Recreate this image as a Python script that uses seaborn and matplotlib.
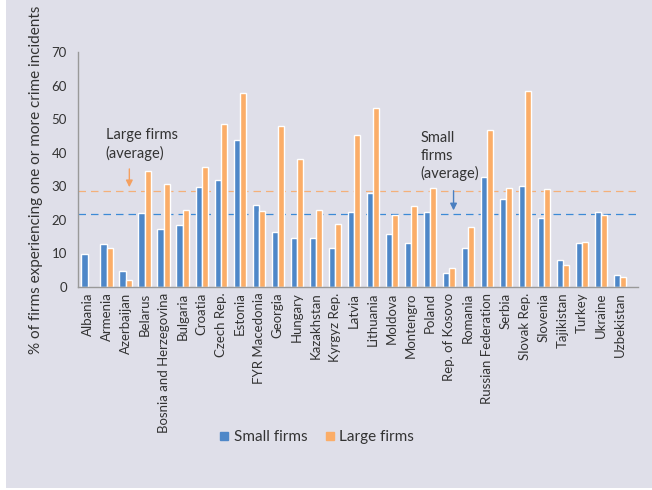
import matplotlib
matplotlib.use("Agg")
import matplotlib.pyplot as plt
import seaborn as sns
import pandas as pd
import numpy as np
from matplotlib.patches import Rectangle
from matplotlib.lines import Line2D

countries = ["Albania", "Armenia", "Azerbaijan", "Belarus", "Bosnia and Herzegovina",
             "Bulgaria", "Croatia", "Czech Rep.", "Estonia", "FYR Macedonia", "Georgia",
             "Hungary", "Kazakhstan", "Kyrgyz Rep.", "Latvia", "Lithuania", "Moldova",
             "Montengro", "Poland", "Rep. of Kosovo", "Romania", "Russian Federation",
             "Serbia", "Slovak Rep.", "Slovenia", "Tajikistan", "Turkey", "Ukraine",
             "Uzbekistan"]
small_firms = [9.8, 12.8, 4.8, 22.0, 17.3, 18.5, 29.8, 31.9, 43.8, 24.4, 16.4,
               14.6, 14.6, 11.6, 22.3, 28.0, 15.8, 13.1, 22.3, 4.2, 11.6, 32.8,
               26.2, 30.1, 20.6, 8.0, 13.1, 22.3, 3.6]
large_firms = [np.nan, 11.6, 2.1, 34.6, 30.7, 23.0, 35.7, 48.6, 57.8, 22.6, 48.0,
               38.1, 23.0, 18.8, 45.3, 53.3, 21.4, 24.1, 29.5, 5.7, 17.9, 46.8,
               29.5, 58.4, 29.2, 6.6, 13.4, 21.4, 3.0]
small_avg = 21.7
large_avg = 28.6

bg = "#dfdfe9"
blue = "#4e87c8"
orange = "#fbad68"

sns.set_theme(style="white")
plt.rcParams["font.family"] = ["Lato", "DejaVu Sans"]

df = pd.DataFrame({
    "country": countries * 2,
    "value": small_firms + large_firms,
    "group": ["Small firms"] * len(countries) + ["Large firms"] * len(countries),
})

fig = plt.figure(figsize=(6.52, 4.9), dpi=100, facecolor=bg)
fig.patches.append(Rectangle((0, 0), 6 / 652, 1, transform=fig.transFigure,
                             facecolor="white", edgecolor="none", zorder=0))
fig.patches.append(Rectangle((0, 0), 1, 2 / 490, transform=fig.transFigure,
                             facecolor="white", edgecolor="none", zorder=0))
ax = fig.add_axes([78 / 652, 1 - 287 / 490, 560 / 652, 235 / 490])
ax.set_facecolor(bg)

sns.barplot(data=df, x="country", y="value", hue="group", order=countries,
            hue_order=["Small firms", "Large firms"], palette=[blue, orange],
            width=0.64, saturation=1, ax=ax, legend=False)

ax.axhline(large_avg, color="#f4b07a", lw=0.9, dashes=(6, 4), zorder=0.5)
ax.axhline(small_avg, color="#3c8ad6", lw=0.9, dashes=(6, 4), zorder=0.5)

ax.set_ylim(0, 70)
ax.set_xlim(-0.5, 28.95)
ax.set_yticks(range(0, 71, 10))
ax.tick_params(axis="y", length=0, labelsize=9.5, colors="#333333", pad=8)
ax.tick_params(axis="x", length=0, labelsize=9.5, colors="#333333", pad=4)
ax.set_xticks(range(len(countries)))
ax.set_xticklabels(countries, rotation=90)
ax.set_xlabel("")
ax.set_ylabel("% of firms experiencing one or more crime incidents", fontsize=11,
              color="#333333")
ax.yaxis.set_label_coords(-0.062, 0.455)

for s in ["top", "right"]:
    ax.spines[s].set_visible(False)
for s in ["left", "bottom"]:
    ax.spines[s].set_color("#999999")
    ax.spines[s].set_linewidth(1)

ax.annotate("", xy=(2.2, large_avg + 0.3), xytext=(2.2, 36.0),
            arrowprops=dict(arrowstyle="-|>", color="#f4a060", lw=1, mutation_scale=10))
ax.text(0.95, 37.5, "Large firms\n(average)", fontsize=10.5, color="#333333",
        va="bottom", ha="left", linespacing=1.3)
ax.annotate("", xy=(19.25, small_avg + 0.3), xytext=(19.25, 29.5),
            arrowprops=dict(arrowstyle="-|>", color="#4a7fc0", lw=1, mutation_scale=10))
ax.text(17.5, 31.5, "Small\nfirms\n(average)", fontsize=10.5, color="#333333",
        va="bottom", ha="left", linespacing=1.3)

handles = [Line2D([], [], marker="s", ls="", color=blue, markersize=6),
           Line2D([], [], marker="s", ls="", color=orange, markersize=6)]
fig.legend(handles, ["Small firms", "Large firms"], loc="center",
           bbox_to_anchor=(317 / 652, 1 - 437 / 490), ncol=2, frameon=False,
           fontsize=11, handlelength=0.6, handletextpad=0.3, columnspacing=1.2,
           labelcolor="#333333")

fig.savefig("out.png", dpi=100, facecolor=bg)
